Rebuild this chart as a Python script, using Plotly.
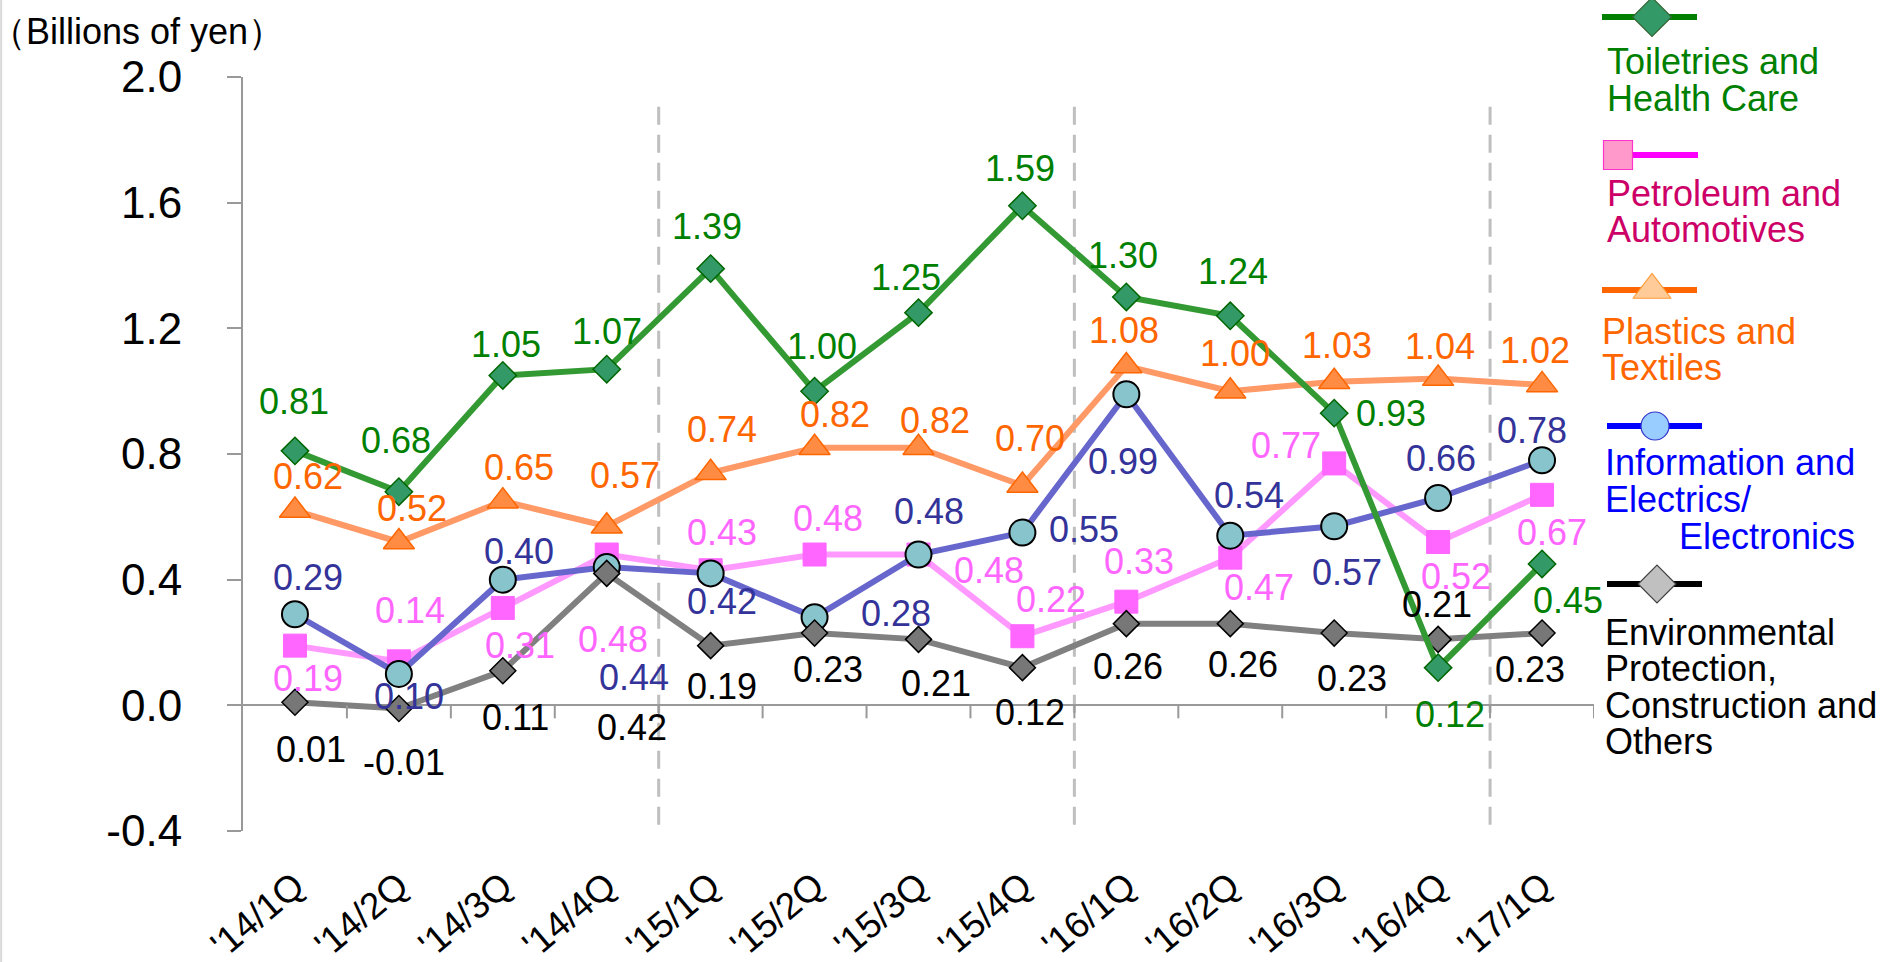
import plotly.graph_objects as go

W, H = 1889, 962

# ---------------- data ----------------
quarters = ["'14/1Q", "'14/2Q", "'14/3Q", "'14/4Q", "'15/1Q", "'15/2Q", "'15/3Q",
            "'15/4Q", "'16/1Q", "'16/2Q", "'16/3Q", "'16/4Q", "'17/1Q"]
toiletries = [0.81, 0.68, 1.05, 1.07, 1.39, 1.00, 1.25, 1.59, 1.30, 1.24, 0.93, 0.12, 0.45]
petroleum = [0.19, 0.14, 0.31, 0.48, 0.43, 0.48, 0.48, 0.22, 0.33, 0.47, 0.77, 0.52, 0.67]
plastics = [0.62, 0.52, 0.65, 0.57, 0.74, 0.82, 0.82, 0.70, 1.08, 1.00, 1.03, 1.04, 1.02]
information = [0.29, 0.10, 0.40, 0.44, 0.42, 0.28, 0.48, 0.55, 0.99, 0.54, 0.57, 0.66, 0.78]
environmental = [0.01, -0.01, 0.11, 0.42, 0.19, 0.23, 0.21, 0.12, 0.26, 0.26, 0.23, 0.21, 0.23]
y_ticks = [-0.4, 0.0, 0.4, 0.8, 1.2, 1.6, 2.0]
y_title = "（Billions of yen）"
legend_toiletries = ["Toiletries and", "Health Care"]
legend_petroleum = ["Petroleum and", "Automotives"]
legend_plastics = ["Plastics and", "Textiles"]
legend_information = ["Information and", "Electrics/", "Electronics"]
legend_environmental = ["Environmental", "Protection,", "Construction and", "Others"]

# ---------------- styles / label offsets (pixels, dy downward) ----------------
FONT = "Liberation Sans, Arial, sans-serif"
off_toiletries = [(-1, -49), (-3, -51), (3, -31), (0, -38), (-4, -42), (7, -45), (-13, -35),
                  (-2, -37), (-3, -41), (3, -44), (57, 0), (12, 47), (26, 37)]
off_plastics = [(13, -34), (13, -33), (16, -34), (18, -51), (11, -43), (20, -33), (16, -27),
                (8, -47), (-2, -36), (5, -38), (3, -36), (2, -32), (-7, -34)]
off_petroleum = [(13, 33), (11, -51), (17, 38), (6, 85), (11, -38), (13, -36), (70, 16),
                 (29, -37), (13, -40), (29, 30), (-48, -18), (18, 35), (10, 38)]
off_information = [(13, -37), (10, 23), (16, -28), (27, 110), (11, 28), (81, -4), (10, -43),
                   (62, -3), (-3, 67), (19, -40), (13, 46), (3, -39), (-10, -30)]
off_environmental = [(16, 47), (5, 54), (13, 47), (25, 154), (11, 41), (13, 36), (17, 44),
                     (8, 45), (2, 43), (13, 41), (18, 45), (-1, -35), (-12, 36)]

series = [
    # values, line color, symbol, size, fill, border, border width, label color, offsets
    (plastics, "#FF9966", "triangle-up", 27, "#FF8C42", "#FF6600", 1.5, "#FF6600", off_plastics),
    (petroleum, "#FF99FF", "square", 23, "#FF66FF", "#FF66FF", 1, "#FF66FF", off_petroleum),
    (information, "#6666CC", "circle", 26, "#88C4CC", "#000000", 2, "#333399", off_information),
    (environmental, "#808080", "diamond", 20, "#777777", "#000000", 1.5, "#000000", off_environmental),
    (toiletries, "#339933", "diamond", 21, "#339966", "#006600", 1.5, "#008000", off_toiletries),
]

x0p, x1p, y0p, y1p = 243, 1594, 77, 831  # plot area in pixels

fig = go.Figure()
annotations = []
for vals, lc, sym, sz, fill, border, bw, tc, offs in series:
    fig.add_trace(go.Scatter(
        x=quarters, y=vals, mode="lines+markers",
        line=dict(color=lc, width=6),
        marker=dict(symbol=sym, size=sz, color=fill, line=dict(color=border, width=bw)),
        showlegend=False, cliponaxis=False, xaxis="x", yaxis="y"))
    for q, v, (dx, dy) in zip(quarters, vals, offs):
        annotations.append(dict(x=q, y=v, xref="x", yref="y", text=f"{v:.2f}",
                                showarrow=False, xshift=dx, yshift=-dy,
                                font=dict(family=FONT, size=36, color=tc)))

# ---------------- legend (pixel overlay axes) ----------------
legend = [
    (17, 1602, 1697, 1652, "diamond", 30, "#339966", "#336633", "#008000", "#008000",
     [(1605, 61), (1605, 98)], legend_toiletries),
    (155, 1603, 1698, 1618, "square", 29, "#FF99CC", "#FF33CC", "#FF00FF", "#CC0066",
     [(1605, 193), (1605, 229)], legend_petroleum),
    (290, 1602, 1697, 1652, "triangle-up", 33, "#FFCC99", "#FF9933", "#FF6600", "#FF6600",
     [(1600, 331), (1600, 367)], legend_plastics),
    (426, 1607, 1702, 1655, "circle", 28, "#99CCFF", "#3333CC", "#0000FF", "#0000FF",
     [(1603, 462), (1603, 499), (1677, 536)], legend_information),
    (584, 1607, 1702, 1657, "diamond", 29, "#C0C0C0", "#404040", "#000000", "#000000",
     [(1603, 632), (1603, 668), (1603, 705), (1603, 741)], legend_environmental),
]
for ly, lx0, lx1, mx, sym, sz, fill, border, lc, tc, pos, texts in legend:
    fig.add_trace(go.Scatter(x=[lx0, lx1], y=[ly, ly], mode="lines",
                             line=dict(color=lc, width=6), showlegend=False,
                             xaxis="x2", yaxis="y2", hoverinfo="skip", cliponaxis=False))
    fig.add_trace(go.Scatter(x=[mx], y=[ly], mode="markers",
                             marker=dict(symbol=sym, size=sz, color=fill,
                                         line=dict(color=border, width=1.2)),
                             showlegend=False, xaxis="x2", yaxis="y2", hoverinfo="skip",
                             cliponaxis=False))
    for (tx, ty), t in zip(pos, texts):
        annotations.append(dict(x=tx, y=ty, xref="x2", yref="y2", text=t, showarrow=False,
                                xanchor="left", yanchor="middle",
                                font=dict(family=FONT, size=36, color=tc)))

annotations.append(dict(x=0, y=31, xref="x2", yref="y2", xshift=-12, text=y_title,
                        showarrow=False, xanchor="left", yanchor="middle",
                        font=dict(family=FONT, size=36, color="#000000")))

# ---------------- shapes ----------------
shapes = []
for xb in [3.5, 7.5, 11.5]:
    shapes.append(dict(type="line", xref="x", yref="y", x0=xb, x1=xb, y0=-0.38, y1=1.91,
                       line=dict(color="#BFBFBF", width=3, dash="18px,10px"), layer="below"))
for i in range(len(quarters)):
    shapes.append(dict(type="line", xref="x", yref="y", x0=i + 0.5, x1=i + 0.5,
                       ysizemode="pixel", yanchor=0, y0=0, y1=-13,
                       line=dict(color="#999999", width=2)))
shapes.append(dict(type="line", xref="paper", yref="paper", x0=0.0006, x1=0.0006, y0=0, y1=1,
                   line=dict(color="#D9D9D9", width=2)))

fig.update_layout(
    width=W, height=H, margin=dict(l=0, r=0, t=0, b=0, autoexpand=False),
    paper_bgcolor="white", plot_bgcolor="rgba(0,0,0,0)",
    font=dict(family=FONT, color="#000000"),
    xaxis=dict(domain=[x0p / W, x1p / W], type="category", range=[-0.5, 12.5],
               showgrid=False, zeroline=False, showline=False, ticks="", automargin=False,
               tickangle=-40, tickfont=dict(family=FONT, size=37, color="#000000"),
               ticklabelstandoff=25, anchor="y"),
    yaxis=dict(domain=[(H - y1p) / H, (H - y0p) / H], range=[-0.4, 2.0], automargin=False,
               tickvals=y_ticks, ticktext=[f"{v:.1f}" for v in y_ticks],
               showgrid=False, zeroline=True, zerolinecolor="#999999", zerolinewidth=2,
               showline=True, linecolor="#999999", linewidth=2,
               ticks="outside", ticklen=14, tickwidth=2, tickcolor="#999999",
               tickfont=dict(family=FONT, size=44, color="#000000"),
               ticklabelstandoff=36, anchor="x"),
    xaxis2=dict(domain=[0, 1], range=[0, W], visible=False, anchor="y2", fixedrange=True,
                automargin=False),
    yaxis2=dict(domain=[0, 1], range=[H, 0], visible=False, anchor="x2", fixedrange=True,
                automargin=False),
    annotations=annotations, shapes=shapes,
)

fig.write_html("out.html", config={"displayModeBar": False},
               post_script="document.body.style.margin='0';")
